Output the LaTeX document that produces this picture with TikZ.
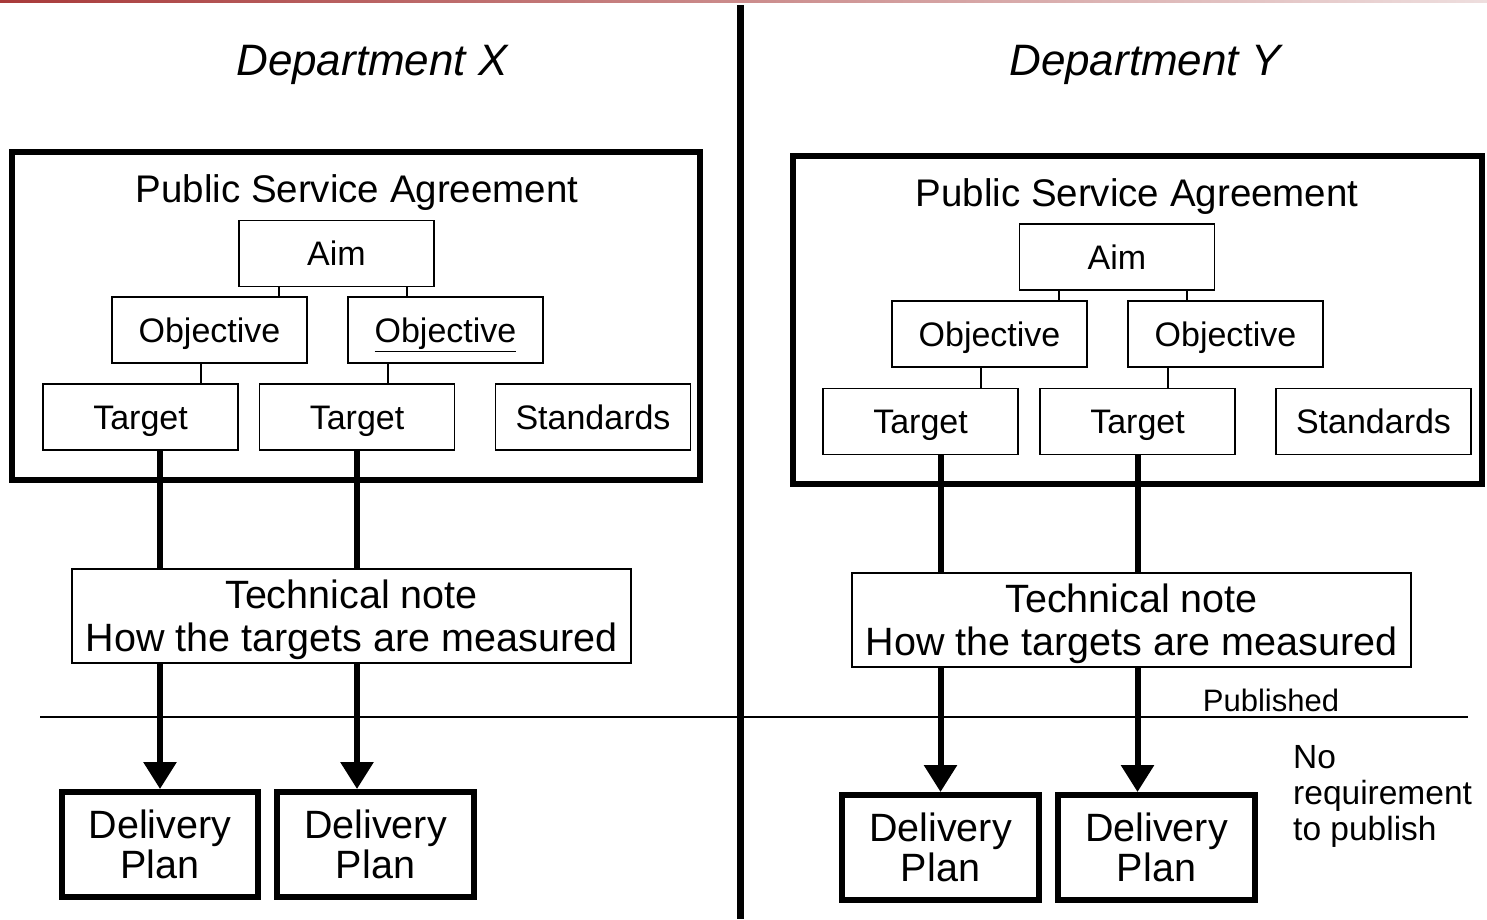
\documentclass[tikz,border=0pt]{standalone}
\usepackage{fontspec}
\setmainfont{Liberation Sans}
\usetikzlibrary{arrows.meta,calc}
\begin{document}
\begin{tikzpicture}[x=1pt,y=-1pt,
  capc/.style={text height=#1,text depth=0pt},
  bigbox/.style={draw,line width=6pt,rectangle,inner sep=0pt,minimum width=#1,minimum height=328pt},
  smallbox/.style={draw,line width=1.8pt,rectangle,inner sep=0pt,minimum width=195pt,minimum height=66pt,
    font=\fontsize{34}{38}\selectfont,capc=24.5pt},
  notebox/.style={draw,line width=1.8pt,rectangle,inner sep=0pt,minimum width=559pt,minimum height=94pt,
    align=center,font=\fontsize{39.5}{43}\selectfont,capc=71.4pt},
  planbox/.style={draw,line width=6pt,rectangle,inner sep=0pt,minimum width=#1,minimum height=105pt,
    align=center,font=\fontsize{39.5}{40}\selectfont,capc=68.4pt},
  title/.style={inner sep=0pt,font=\fontsize{38.5}{44}\selectfont},
  dept/.style={inner sep=0pt,font=\fontsize{44}{48}\selectfont\itshape},
  thin/.style={line width=1.8pt},
  thickline/.style={line width=6pt},
  thickarrow/.style={line width=6pt,-{Triangle[width=32pt,length=27pt]}},
  plain/.style={inner sep=0pt,font=\fontsize{31}{36}\selectfont}
]
\useasboundingbox (0,0) rectangle (1487,919);
\fill[white] (0,0) rectangle (1487,919);
% top red line
\shade[left color={rgb,255:red,168;green,58;blue,58},right color={rgb,255:red,238;green,222;blue,222}] (0,0) rectangle (1487,2.5);

% ---------- Department X ----------
\node[dept] (deptX) at (372,65) {Department X};
\node[bigbox=688pt] (psaL) at (356,316) {};
\node[title] (titleL) at (357,193) {Public Service Agreement};
\node[smallbox] (aimL) at (336.5,253.5) {Aim};
\node[smallbox] (objL1) at (209.5,330) {Objective};
\node[smallbox] (objL2) at (445.5,330) {\underline{Objective}};
\node[smallbox] (tgtL1) at (140.5,417) {Target};
\node[smallbox] (tgtL2) at (357,417) {Target};
\node[smallbox] (stdL) at (593,417) {Standards};
\node[notebox] (noteL) at (351.5,616) {Technical note\\How the targets are measured};
\node[planbox=196pt] (dpL1) at (160,844.5) {Delivery\\Plan};
\node[planbox=197pt] (dpL2) at (375.5,844.5) {Delivery\\Plan};

\draw[thin] (aimL.south -| 279,0) -- (objL1.north -| 279,0);
\draw[thin] (aimL.south -| 407,0) -- (objL2.north -| 407,0);
\draw[thin] (objL1.south -| 201,0) -- (tgtL1.north -| 201,0);
\draw[thin] (objL2.south -| 388,0) -- (tgtL2.north -| 388,0);
\draw[thickline] (tgtL1.south -| dpL1.north) -- (noteL.north -| dpL1.north);
\draw[thickline] (tgtL2.south) -- (noteL.north -| tgtL2.south);
\draw[thickarrow] (noteL.south -| dpL1.north) -- (dpL1.north);
\draw[thickarrow] (noteL.south -| tgtL2.south) -- (dpL2.north -| tgtL2.south);

% ---------- Department Y ----------
\node[dept] (deptY) at (1145,65) {Department Y};
\node[bigbox=689pt] (psaR) at (1137.5,320) {};
\node[title] (titleR) at (1137,197) {Public Service Agreement};
\node[smallbox] (aimR) at (1117,257) {Aim};
\node[smallbox] (objR1) at (989.5,334) {Objective};
\node[smallbox] (objR2) at (1225.5,334) {Objective};
\node[smallbox] (tgtR1) at (920.5,421.5) {Target};
\node[smallbox] (tgtR2) at (1137.5,421.5) {Target};
\node[smallbox] (stdR) at (1373.5,421.5) {Standards};
\node[notebox] (noteR) at (1131.5,620) {Technical note\\How the targets are measured};
\node[planbox=197pt] (dpR1) at (940.5,847.5) {Delivery\\Plan};
\node[planbox=197pt] (dpR2) at (1156.5,847.5) {Delivery\\Plan};

\draw[thin] (aimR.south -| 1059,0) -- (objR1.north -| 1059,0);
\draw[thin] (aimR.south -| 1187,0) -- (objR2.north -| 1187,0);
\draw[thin] (objR1.south -| 981,0) -- (tgtR1.north -| 981,0);
\draw[thin] (objR2.south -| 1168,0) -- (tgtR2.north -| 1168,0);
\draw[thickline] (tgtR1.south -| dpR1.north) -- (noteR.north -| dpR1.north);
\draw[thickline] (tgtR2.south) -- (noteR.north -| tgtR2.south);
\draw[thickarrow] (noteR.south -| dpR1.north) -- (dpR1.north);
\draw[thickarrow] (noteR.south -| tgtR2.south) -- (dpR2.north -| tgtR2.south);

% ---------- publication line and divider ----------
\coordinate (pubA) at (40,717);
\coordinate (pubB) at (1468,717);
\draw[thin] (pubA) -- (pubB);
\coordinate (divTop) at (740,5);
\coordinate (divBot) at (740,919);
\draw[line width=7pt] (divTop) -- (divBot);

\node[plain] (published) at (1271,700) {Published};
\node[plain,anchor=north west,align=left,font=\fontsize{33.5}{36}\selectfont] (noreq) at (1293,745) {No\\requirement\\to publish};
\end{tikzpicture}
\end{document}
